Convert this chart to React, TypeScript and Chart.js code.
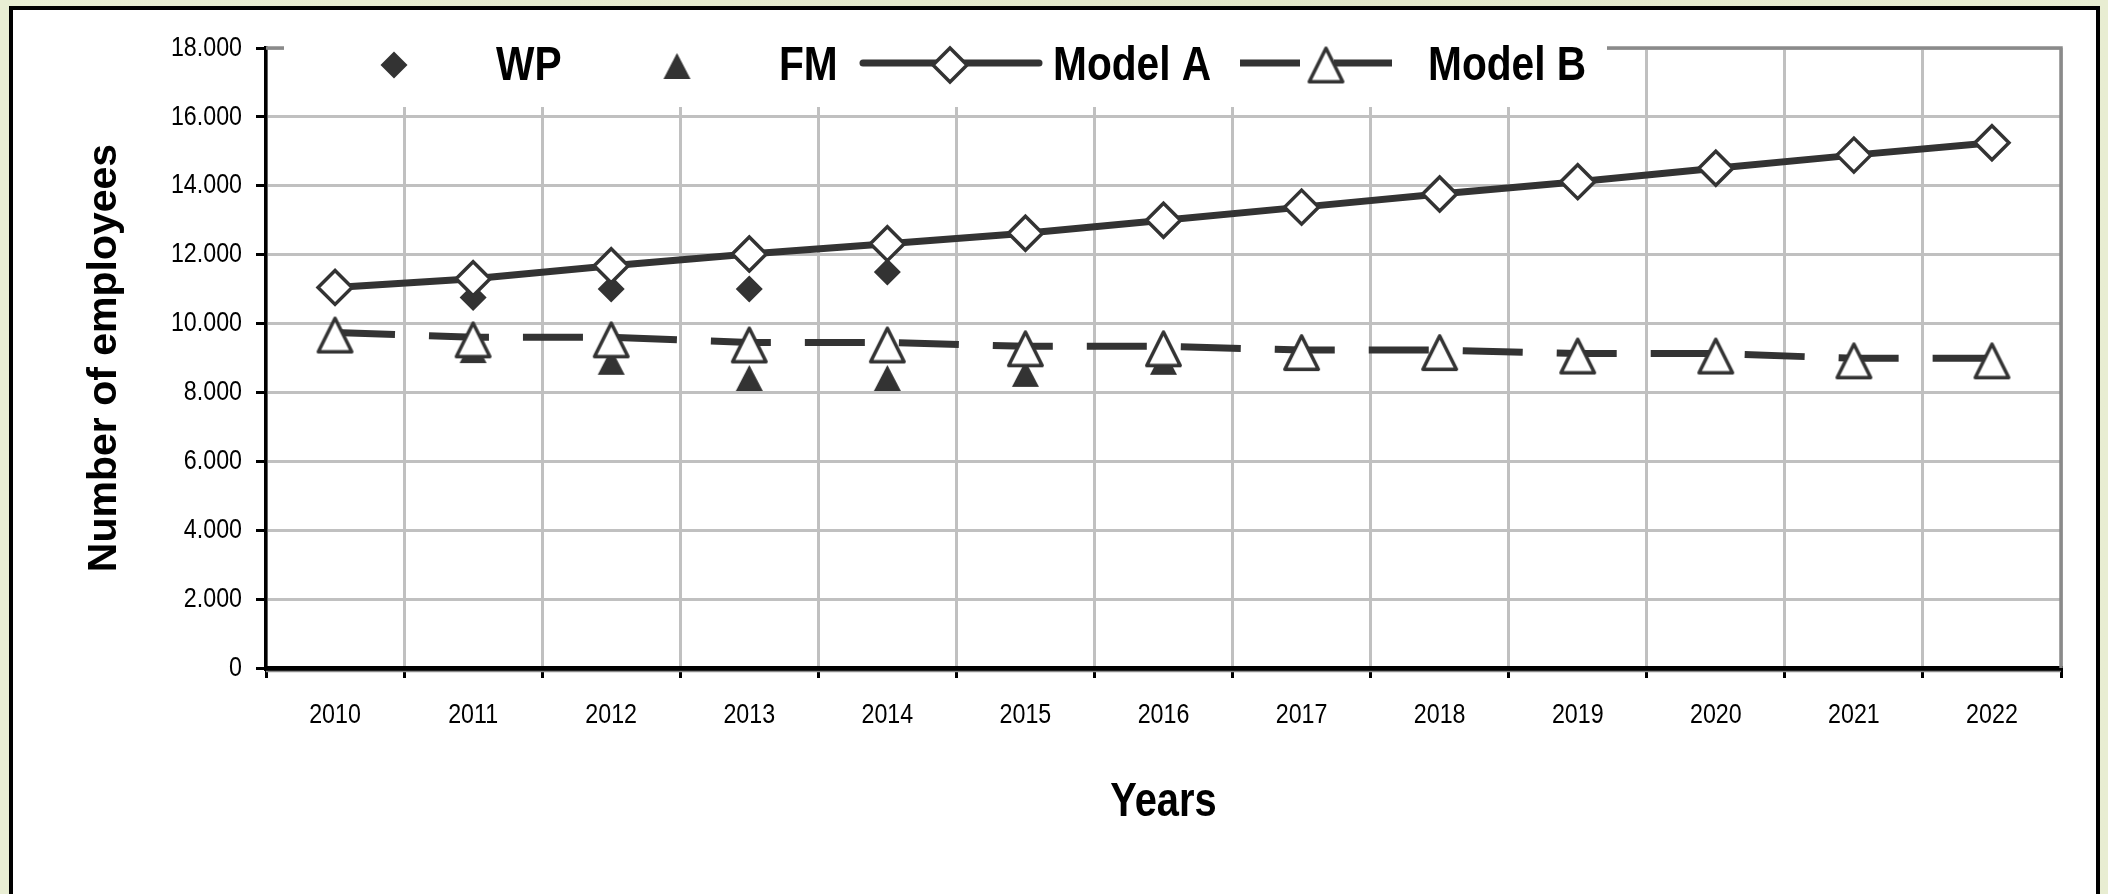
import React, { useEffect, useRef } from 'react';
import { Chart, registerables } from 'chart.js';

Chart.register(...registerables);

// ---------- data ----------
const years = ['2010', '2011', '2012', '2013', '2014', '2015', '2016', '2017', '2018', '2019', '2020', '2021', '2022'];
const seriesNames = ['WP', 'FM', 'Model A', 'Model B'];
const wpValues = [null, 10760, 11000, 11000, 11500, null, null, null, null, null, null, null, null];
const fmValues = [null, 9230, 8890, 8420, 8420, 8540, 8890, null, null, null, null, null, null];
const modelAValues = [11050, 11300, 11680, 12020, 12320, 12620, 13000, 13380, 13760, 14120, 14510, 14890, 15250];
const modelBValues = [9740, 9600, 9600, 9450, 9450, 9340, 9340, 9230, 9230, 9130, 9130, 8990, 8990];
const yTickLabels = ['0', '2.000', '4.000', '6.000', '8.000', '10.000', '12.000', '14.000', '16.000', '18.000'];
const xTitle = 'Years';
const yTitle = 'Number of employees';

// ---------- styles ----------
const DARK = '#333333';
const GRID = '#c0c0c0';
const NARROW = "'Liberation Sans Narrow', 'Liberation Sans', Arial, sans-serif";
const REGULAR = "'Liberation Sans', Arial, sans-serif";
const SQUEEZE = 0.83;

function makeTriangle(w: number, h: number, fill: string, stroke: string, lw: number, dy: number) {
  const c = document.createElement('canvas');
  const cw = Math.ceil(w + 4);
  const ch = Math.ceil(h + 4 + 2 * Math.abs(dy));
  c.width = cw;
  c.height = ch;
  const g = c.getContext('2d')!;
  const cx = cw / 2;
  const cy = ch / 2 + dy;
  const inset = lw / 2;
  g.beginPath();
  g.moveTo(cx, cy - h / 2 + inset);
  g.lineTo(cx + w / 2 - inset, cy + h / 2 - inset);
  g.lineTo(cx - w / 2 + inset, cy + h / 2 - inset);
  g.closePath();
  g.fillStyle = fill;
  g.fill();
  if (lw > 0) {
    g.lineWidth = lw;
    g.strokeStyle = stroke;
    g.lineJoin = 'round';
    g.stroke();
  }
  return c;
}

function drawDiamond(ctx: CanvasRenderingContext2D, x: number, y: number, r: number, fill: string, stroke: string | null, lw: number) {
  ctx.beginPath();
  ctx.moveTo(x - r, y);
  ctx.lineTo(x, y - r);
  ctx.lineTo(x + r, y);
  ctx.lineTo(x, y + r);
  ctx.closePath();
  ctx.fillStyle = fill;
  ctx.fill();
  if (stroke) {
    ctx.lineWidth = lw;
    ctx.strokeStyle = stroke;
    ctx.stroke();
  }
}

// condensed text: squeeze horizontally any text drawn with the "Narrow" family
function patchNarrowText(ctx: CanvasRenderingContext2D) {
  const orig = ctx.fillText.bind(ctx);
  (ctx as any).fillText = (text: string, x: number, y: number, maxWidth?: number) => {
    if (ctx.font.indexOf('Narrow') >= 0) {
      ctx.save();
      ctx.translate(x, y);
      ctx.scale(SQUEEZE, 1);
      if (maxWidth !== undefined && maxWidth !== null) orig(text, 0, 0, maxWidth / SQUEEZE);
      else orig(text, 0, 0);
      ctx.restore();
    } else if (maxWidth !== undefined && maxWidth !== null) {
      orig(text, x, y, maxWidth);
    } else {
      orig(text, x, y);
    }
  };
}

const MB_DY = 2.5;

export default function App() {
  const ref = useRef<HTMLCanvasElement>(null);

  useEffect(() => {
    const canvas = ref.current!;
    const ctx0 = canvas.getContext('2d')!;
    patchNarrowText(ctx0);

    const whiteTri = makeTriangle(37, 37, '#ffffff', DARK, 3.5, MB_DY);
    const blackTri = makeTriangle(27, 26, DARK, DARK, 0, 0);

    const legendPlugin = {
      id: 'excelLegend',
      beforeDatasetsDraw(chart: any) {
        const { ctx, chartArea: a } = chart;
        ctx.save();
        ctx.strokeStyle = '#8a8a8a';
        ctx.lineWidth = 3.5;
        ctx.beginPath();
        ctx.moveTo(a.left, a.top);
        ctx.lineTo(a.right, a.top);
        ctx.lineTo(a.right, a.bottom);
        ctx.stroke();
        ctx.lineWidth = 1.5;
        ctx.beginPath();
        ctx.moveTo(a.left, a.bottom + 3.5);
        ctx.lineTo(a.right, a.bottom + 3.5);
        ctx.stroke();
        ctx.restore();
      },
      afterDraw(chart: any) {
        const { ctx, chartArea: a } = chart;
        ctx.save();
        // legend box (white, overlapping the plot top)
        ctx.fillStyle = '#ffffff';
        ctx.fillRect(a.left + 18, 14, 1607 - (a.left + 18), a.top + 59 - 14);

        const cy = 64;
        // WP
        drawDiamond(ctx, 394, cy + 1, 13.5, DARK, null, 0);
        // FM
        ctx.drawImage(blackTri, 677 - blackTri.width / 2, cy + 2 - blackTri.height / 2);
        // Model A
        ctx.strokeStyle = DARK;
        ctx.lineWidth = 7;
        ctx.lineCap = 'round';
        ctx.beginPath();
        ctx.moveTo(863, cy - 1);
        ctx.lineTo(1039, cy - 1);
        ctx.stroke();
        drawDiamond(ctx, 950, cy + 1, 17, '#ffffff', DARK, 3.5);
        // Model B
        ctx.strokeStyle = DARK;
        ctx.lineWidth = 7;
        ctx.lineCap = 'butt';
        ctx.setLineDash([60, 34]);
        ctx.beginPath();
        ctx.moveTo(1240, cy - 1);
        ctx.lineTo(1392, cy - 1);
        ctx.stroke();
        ctx.setLineDash([]);
        ctx.drawImage(whiteTri, 1326 - whiteTri.width / 2, cy + 1 - MB_DY - whiteTri.height / 2);

        ctx.fillStyle = '#000000';
        ctx.font = `bold 49px ${NARROW}`;
        ctx.textAlign = 'left';
        ctx.textBaseline = 'alphabetic';
        ctx.fillText(seriesNames[0], 496, 80);
        ctx.fillText(seriesNames[1], 779, 80);
        ctx.fillText(seriesNames[2], 1053, 80);
        ctx.fillText(seriesNames[3], 1428, 80);
        ctx.restore();
      },
    };

    const chart = new Chart(canvas, {
      type: 'line',
      data: {
        labels: years,
        datasets: [
          {
            label: seriesNames[0],
            data: wpValues,
            showLine: false,
            pointStyle: 'rectRot',
            pointRadius: 13.5,
            pointBackgroundColor: DARK,
            pointBorderColor: DARK,
            pointBorderWidth: 0,
            borderColor: DARK,
            order: 3,
          },
          {
            label: seriesNames[1],
            data: fmValues,
            showLine: false,
            pointStyle: blackTri,
            pointRadius: 13,
            borderColor: DARK,
            order: 2,
          },
          {
            label: seriesNames[2],
            data: modelAValues,
            borderColor: DARK,
            borderWidth: 7,
            borderCapStyle: 'round',
            borderJoinStyle: 'round',
            pointStyle: 'rectRot',
            pointRadius: 17,
            pointBackgroundColor: '#ffffff',
            pointBorderColor: DARK,
            pointBorderWidth: 3.5,
            tension: 0,
            order: 1,
          },
          {
            label: seriesNames[3],
            data: modelBValues,
            borderColor: DARK,
            borderWidth: 7,
            borderDash: [60, 34],
            borderCapStyle: 'butt',
            pointStyle: whiteTri,
            pointRadius: 18,
            tension: 0,
            order: 0,
          },
        ],
      } as any,
      options: {
        animation: false,
        responsive: false,
        devicePixelRatio: 1,
        events: [],
        layout: { padding: { left: 0, top: 48, right: 47, bottom: 0 } },
        plugins: {
          legend: { display: false },
          tooltip: { enabled: false },
        },
        scales: {
          x: {
            type: 'category',
            offset: true,
            grid: {
              offset: true,
              color: GRID,
              lineWidth: 3,
              drawTicks: true,
              tickLength: 10,
              tickColor: '#000000',
              tickWidth: 3,
            },
            border: { display: true, color: '#000000', width: 5 },
            ticks: {
              color: '#000000',
              font: { family: NARROW, size: 28 },
              padding: 20,
              maxRotation: 0,
              autoSkip: false,
            },
            title: {
              display: true,
              text: xTitle,
              color: '#000000',
              font: { family: NARROW, size: 48, weight: 'bold' },
              padding: { top: 0, bottom: 62 },
            },
            afterFit: (s: any) => {
              s.height = 226;
            },
          },
          y: {
            min: 0,
            max: 18000,
            grid: {
              color: GRID,
              lineWidth: 3,
              drawTicks: true,
              tickLength: 10,
              tickColor: '#000000',
              tickWidth: 3,
            },
            border: { display: true, color: '#000000', width: 3.5 },
            ticks: {
              stepSize: 2000,
              color: '#000000',
              font: { family: NARROW, size: 28 },
              padding: 14,
              callback: (_v: any, i: number) => yTickLabels[i],
            },
            title: {
              display: true,
              text: yTitle,
              color: '#000000',
              font: { family: REGULAR, size: 41, weight: 'bold' },
              padding: { top: 80, bottom: 0 },
            },
            afterFit: (s: any) => {
              s.width = 266;
            },
          },
        },
      } as any,
      plugins: [legendPlugin],
    });
    return () => chart.destroy();
  }, []);

  return (
    <div
      style={{
        position: 'absolute',
        left: 0,
        top: 0,
        width: 2108,
        height: 894,
        overflow: 'hidden',
        background: 'linear-gradient(90deg, #e9eed4 0%, #e2e7c9 60%, #e8edd2 100%)',
      }}
    >
      <div
        style={{
          position: 'absolute',
          left: 9,
          top: 6,
          width: 2091,
          height: 960,
          boxSizing: 'border-box',
          border: '4px solid #000',
          background: '#ffffff',
        }}
      />
      <canvas
        ref={ref}
        width={2108}
        height={894}
        style={{ position: 'absolute', left: 0, top: 0, width: 2108, height: 894 }}
      />
    </div>
  );
}
